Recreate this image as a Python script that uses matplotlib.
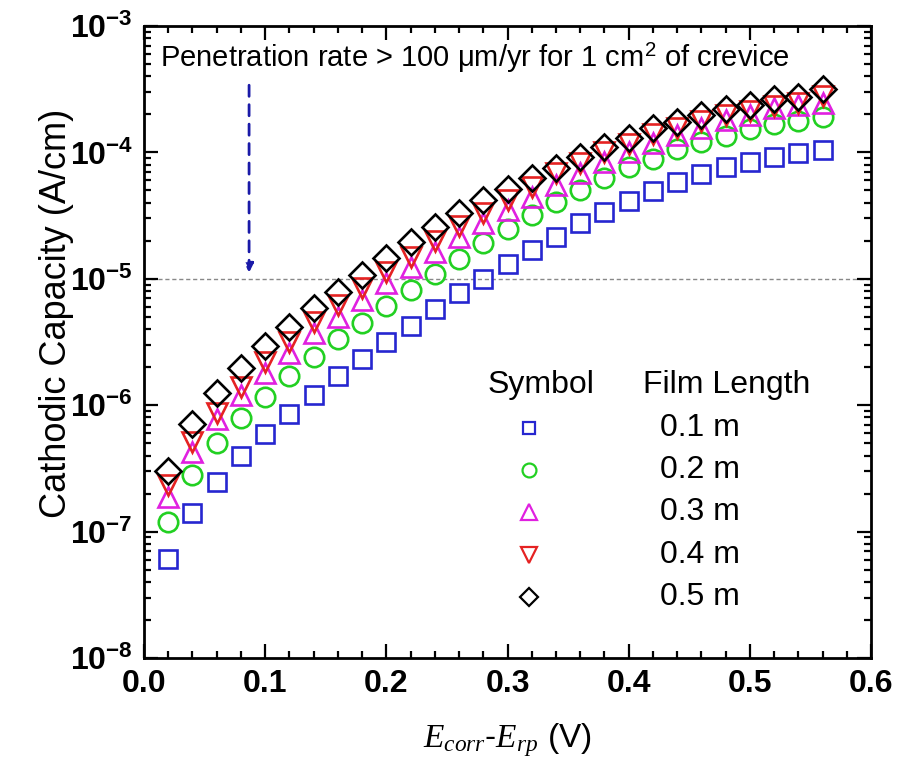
import numpy as np
import matplotlib
matplotlib.use('Agg')
import matplotlib.pyplot as plt
from matplotlib.ticker import MultipleLocator, FuncFormatter, NullFormatter, LogLocator

plt.rcParams['font.family'] = ['Liberation Sans', 'DejaVu Sans']
plt.rcParams['mathtext.fontset'] = 'custom'
plt.rcParams['mathtext.bf'] = 'Liberation Sans:bold'
plt.rcParams['mathtext.rm'] = 'Liberation Sans'
plt.rcParams['mathtext.it'] = 'Liberation Serif:italic'

# potential difference (V)
e_diff = [0.02, 0.04, 0.06, 0.08, 0.10, 0.12, 0.14, 0.16, 0.18, 0.20,
          0.22, 0.24, 0.26, 0.28, 0.30, 0.32, 0.34, 0.36, 0.38, 0.40,
          0.42, 0.44, 0.46, 0.48, 0.50, 0.52, 0.54, 0.56]

# log10 of cathodic capacity (A/cm)
log_cap_01 = [-7.217, -6.853, -6.608, -6.402, -6.228, -6.070, -5.919, -5.769, -5.634, -5.500,
              -5.370, -5.240, -5.115, -5.000, -4.885, -4.775, -4.669, -4.559, -4.472, -4.384,
              -4.305, -4.234, -4.171, -4.115, -4.076, -4.036, -4.005, -3.981]
log_cap_02 = [-6.924, -6.552, -6.299, -6.101, -5.935, -5.769, -5.619, -5.476, -5.350, -5.215,
              -5.085, -4.960, -4.840, -4.720, -4.605, -4.497, -4.392, -4.297, -4.203, -4.116,
              -4.052, -3.973, -3.918, -3.870, -3.815, -3.775, -3.752, -3.720]
log_cap_03 = [-6.726, -6.370, -6.109, -5.919, -5.745, -5.587, -5.429, -5.302, -5.168, -5.033,
              -4.910, -4.790, -4.670, -4.560, -4.455, -4.355, -4.258, -4.163, -4.076, -3.997,
              -3.926, -3.862, -3.807, -3.744, -3.704, -3.649, -3.625, -3.609]
log_cap_04 = [-6.631, -6.291, -6.062, -5.856, -5.658, -5.500, -5.342, -5.207, -5.073, -4.946,
              -4.825, -4.700, -4.585, -4.480, -4.380, -4.270, -4.165, -4.080, -4.000, -3.930,
              -3.855, -3.805, -3.750, -3.705, -3.675, -3.630, -3.610, -3.550]
log_cap_05 = [-6.521, -6.149, -5.903, -5.706, -5.532, -5.381, -5.231, -5.104, -4.970, -4.835,
              -4.710, -4.590, -4.480, -4.380, -4.290, -4.205, -4.123, -4.036, -3.957, -3.886,
              -3.807, -3.759, -3.704, -3.657, -3.625, -3.578, -3.562, -3.498]

film_labels = ['0.1 m', '0.2 m', '0.3 m', '0.4 m', '0.5 m']
series = [log_cap_01, log_cap_02, log_cap_03, log_cap_04, log_cap_05]
markers = ['s', 'o', '^', 'v', 'D']
colors = ['#2626d0', '#22d022', '#e020e0', '#e52222', '#000000']
sizes = [13, 14, 15, 15, 13]
legend_sizes = [9, 10, 11, 11, 9]

threshold = 1e-5

fig = plt.figure(figsize=(9.07, 7.69), dpi=100)
ax = fig.add_axes([0.1588, 0.1443, 0.8015, 0.8219])

ax.axhline(threshold, color='#888888', lw=1.0, ls=(0, (3, 2)), zorder=1)

for vals, m, c, s in zip(series, markers, colors, sizes):
    ax.plot(e_diff, 10 ** np.array(vals), ls='none', marker=m, ms=s,
            mfc='none', mec=c, mew=1.9, zorder=3)

ax.set_yscale('log')
ax.set_xlim(0, 0.6)
ax.set_ylim(1e-8, 1e-3)

ax.xaxis.set_major_locator(MultipleLocator(0.1))
ax.xaxis.set_minor_locator(MultipleLocator(0.02))
ax.xaxis.set_major_formatter(FuncFormatter(lambda v, p: '%.1f' % v))
ax.yaxis.set_major_locator(LogLocator(base=10, numticks=10))
ax.yaxis.set_minor_locator(LogLocator(base=10, subs=np.arange(2, 10), numticks=20))
ax.yaxis.set_major_formatter(FuncFormatter(lambda v, p: r'$\mathbf{10^{%d}}$' % round(np.log10(v))))
ax.yaxis.set_minor_formatter(NullFormatter())

ax.tick_params(which='both', direction='in', top=True, right=True, width=1.6)
ax.tick_params(which='major', length=10, pad=8)
ax.tick_params(which='minor', length=5)
ax.tick_params(axis='x', which='major', labelsize=23)
ax.tick_params(axis='y', which='major', labelsize=23)
for lab in ax.get_xticklabels():
    lab.set_fontweight('bold')
for sp in ax.spines.values():
    sp.set_linewidth(2.0)

ax.set_ylabel('Cathodic Capacity (A/cm)', fontsize=26)
ax.yaxis.set_label_coords(-0.097, 0.545)
ax.set_xlabel(r'$E_{corr}$-$E_{rp}$ (V)', fontsize=24, labelpad=16)

# annotation and arrow
ax.text(0.022, 0.949, r'Penetration rate > 100 $\mathrm{\mu}$m/yr for 1 cm$^{2}$ of crevice',
        transform=ax.transAxes, fontsize=21, va='center', ha='left')
ax.annotate('', xy=(0.0867, 1.12e-5), xytext=(0.0867, 3.4e-4),
            arrowprops=dict(arrowstyle='-|>', color='#1a1aa8', lw=2.0, ls=(0, (4, 3)),
                            mutation_scale=13, shrinkA=0, shrinkB=0))

# hand-made legend
ax.text(0.473, 0.432, 'Symbol', transform=ax.transAxes, fontsize=23, va='center', ha='left')
ax.text(0.686, 0.432, 'Film Length', transform=ax.transAxes, fontsize=23, va='center', ha='left')
row_y = [0.364, 0.297, 0.231, 0.163, 0.0965]
for ry, m, c, s, lab in zip(row_y, markers, colors, legend_sizes, film_labels):
    ax.plot([0.529], [ry], transform=ax.transAxes, ls='none', marker=m, ms=s,
            mfc='none', mec=c, mew=1.6, clip_on=False)
    ax.text(0.710, ry, lab, transform=ax.transAxes, fontsize=23, va='center', ha='left')

fig.savefig('out.png', dpi=100)
